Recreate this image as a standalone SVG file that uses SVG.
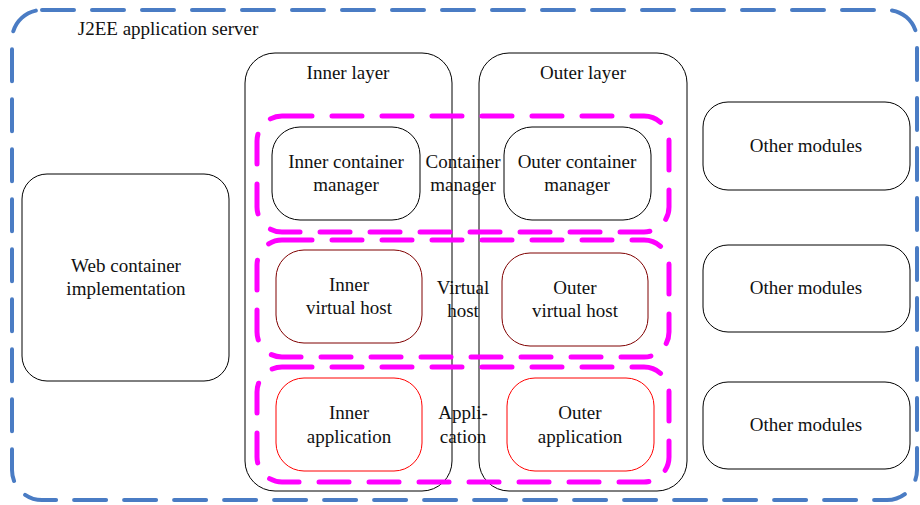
<svg xmlns="http://www.w3.org/2000/svg" width="920" height="505" viewBox="0 0 920 505">
<style>
text{font-family:"Liberation Serif","Times New Roman",serif;font-size:19px;fill:#111;text-anchor:middle}
.box{fill:none;stroke:#000;stroke-width:1}
.vh{fill:none;stroke:#7f0000;stroke-width:1}
.app{fill:none;stroke:#ff0000;stroke-width:1}
.grp{fill:none;stroke:#ff00ff;stroke-width:5;stroke-dasharray:30 20;stroke-linecap:round}
.srv{fill:none;stroke:#4a7cc4;stroke-width:4;stroke-dasharray:32 18;stroke-linecap:round}
</style>
<rect width="920" height="505" fill="#fff"/>
<g id="server">
<rect class="srv" x="12" y="10" width="905" height="490" rx="30"/>
<text x="168" y="35">J2EE application server</text>
</g>
<g id="web">
<rect class="box" x="22" y="174" width="207" height="207" rx="25"/>
<text x="126" y="272">Web container</text>
<text x="126" y="295">implementation</text>
</g>
<g id="inner-layer">
<rect class="box" x="245" y="53" width="207" height="438" rx="30"/>
<text x="348" y="79">Inner layer</text>
</g>
<g id="outer-layer">
<rect class="box" x="479" y="53" width="208" height="438" rx="30"/>
<text x="583" y="79">Outer layer</text>
</g>
<g id="cm-group">
<rect class="grp" x="257" y="116" width="412" height="116" rx="25"/>
<text x="463" y="168">Container</text>
<text x="463" y="191">manager</text>
</g>
<g id="vh-group">
<rect class="grp" x="257" y="240" width="412" height="117" rx="25"/>
<text x="463" y="294">Virtual</text>
<text x="463" y="317">host</text>
</g>
<g id="app-group">
<rect class="grp" x="257" y="367" width="412" height="115" rx="25"/>
<text x="463" y="419">Appli-</text>
<text x="463" y="443">cation</text>
</g>
<g id="inner-cm">
<rect class="box" x="272" y="127" width="148" height="93" rx="28"/>
<text x="346" y="168">Inner container</text>
<text x="346" y="191">manager</text>
</g>
<g id="outer-cm">
<rect class="box" x="504" y="127" width="147" height="93" rx="28"/>
<text x="577" y="168">Outer container</text>
<text x="577" y="191">manager</text>
</g>
<g id="inner-vh">
<rect class="vh" x="276" y="250" width="146" height="93" rx="28"/>
<text x="349" y="291">Inner</text>
<text x="349" y="314">virtual host</text>
</g>
<g id="outer-vh">
<rect class="vh" x="502" y="253" width="146" height="93" rx="28"/>
<text x="575" y="294">Outer</text>
<text x="575" y="317">virtual host</text>
</g>
<g id="inner-app">
<rect class="app" x="276" y="378" width="146" height="93" rx="28"/>
<text x="349" y="419">Inner</text>
<text x="349" y="443">application</text>
</g>
<g id="outer-app">
<rect class="app" x="507" y="378" width="147" height="93" rx="28"/>
<text x="580" y="419">Outer</text>
<text x="580" y="443">application</text>
</g>
<g id="other1">
<rect class="box" x="703" y="102" width="207" height="88" rx="25"/>
<text x="806" y="152">Other modules</text>
</g>
<g id="other2">
<rect class="box" x="703" y="245" width="207" height="87" rx="25"/>
<text x="806" y="294">Other modules</text>
</g>
<g id="other3">
<rect class="box" x="703" y="382" width="207" height="87" rx="25"/>
<text x="806" y="431">Other modules</text>
</g>
<g id="connectors"/>
</svg>
